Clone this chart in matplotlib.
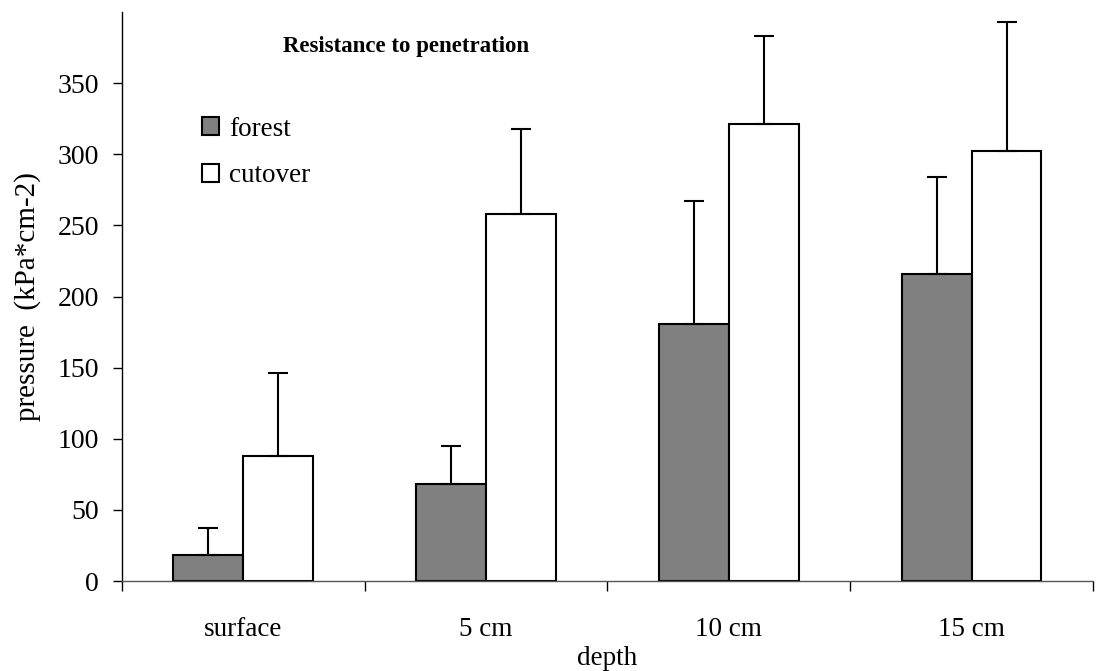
import numpy as np
import matplotlib.pyplot as plt

categories = ['surface', '5 cm', '10 cm', '15 cm']
forest = [18, 68, 181, 216]
forest_err = [19, 27, 86, 68]
cutover = [88, 258, 321, 302]
cutover_err = [58, 60, 62, 91]

plt.rcParams['font.family'] = ['Liberation Serif', 'DejaVu Serif']
plt.rcParams['font.size'] = 19.5

fig = plt.figure(figsize=(10.99, 6.71), dpi=100)
ax = fig.add_axes([0.111, 0.134, 0.8835, 0.848])

x = np.arange(len(categories))
w = 0.288
err_kw = dict(ecolor='black', elinewidth=1.5, capsize=7, capthick=1.5)
ax.bar(x - w / 2, forest, w, color='#808080', edgecolor='black', linewidth=1.5,
       yerr=[np.zeros(len(forest)), forest_err], error_kw=err_kw, label='forest')
ax.bar(x + w / 2, cutover, w, color='white', edgecolor='black', linewidth=1.5,
       yerr=[np.zeros(len(cutover)), cutover_err], error_kw=err_kw, label='cutover')

ax.set_xlim(-0.5, len(categories) - 0.5)
ax.set_ylim(0, 400)
ax.set_yticks(range(0, 351, 50))

# boundary ticks as major, labels as minor
ax.set_xticks(np.arange(-0.5, len(categories), 1.0))
ax.set_xticklabels([])
ax.set_xticks(x, minor=True)
ax.set_xticklabels(categories, minor=True)
ax.tick_params(axis='x', which='major', direction='out', length=7, width=1)
ax.tick_params(axis='x', which='minor', length=0, pad=26)
ax.tick_params(axis='y', direction='out', length=6.5, width=1, pad=10, labelsize=20)

for s in ['top', 'right']:
    ax.spines[s].set_visible(False)
ax.spines['left'].set_linewidth(1)
ax.spines['bottom'].set_linewidth(1)
ax.spines['bottom'].set_color('#555555')

ax.set_xlabel('depth', labelpad=2.5)
ax.set_ylabel('pressure  (kPa*cm-2)', labelpad=12, fontsize=21)

ax.text(0.2925, 0.94, 'Resistance to penetration', transform=ax.transAxes,
        ha='center', va='center', fontweight='bold', fontsize=16.5)

ax.legend(loc='upper left', bbox_to_anchor=(0.071, 0.835), frameon=False,
          handlelength=0.65, handleheight=0.65, handletextpad=0.37,
          labelspacing=0.8, borderaxespad=0, fontsize=19.5)

fig.savefig('out.png', dpi=100)
